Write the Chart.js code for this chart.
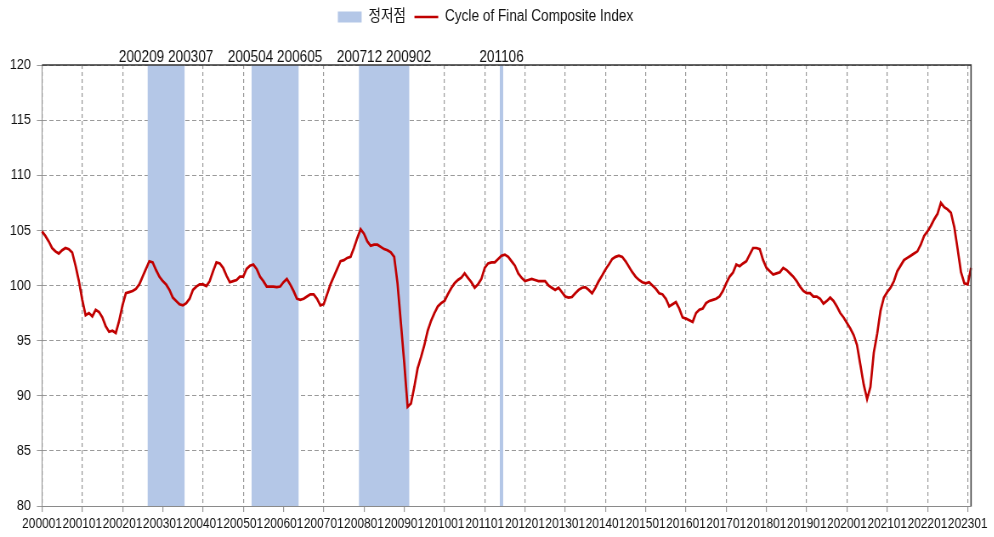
<!DOCTYPE html>
<html>
<head>
<meta charset="utf-8">
<script src="https://cdn.jsdelivr.net/npm/chart.js@4.4.0/dist/chart.umd.min.js"></script>
<style>
  html, body { margin: 0; padding: 0; background: #fff; overflow: hidden; }
  #wrap { position: relative; height: 537px; transform-origin: 0 0; }
</style>
</head>
<body>
<div id="wrap"><canvas id="myChart"></canvas></div>
<script>
// the source picture is a horizontally squeezed Excel chart, so the chart is
// drawn wider and squeezed back with CSS
const SQUEEZE = 0.85;
const wrap = document.getElementById('wrap');
wrap.style.width = (994 / SQUEEZE) + 'px';
wrap.style.transform = 'scaleX(' + SQUEEZE + ')';

const FONT = "'Liberation Sans', Arial, 'Noto Sans CJK KR', sans-serif";

// months 200001 .. 202302
const firstYear = 2000;
const monthCount = 278;
const yMin = 80;
const yMax = 120;
const yStep = 5;

// cycle of final composite index, one row per year
const cycleIndex = [
  104.9, 104.5, 104.0, 103.4, 103.1, 102.9, 103.2, 103.4, 103.3, 103.0, 101.8, 100.4, // 2000
  98.7, 97.3, 97.5, 97.2, 97.8, 97.6, 97.1, 96.3, 95.8, 95.9, 95.7, 96.8,             // 2001
  98.2, 99.3, 99.4, 99.5, 99.7, 100.1, 100.8, 101.5, 102.2, 102.1, 101.4, 100.8,      // 2002
  100.4, 100.1, 99.6, 98.9, 98.6, 98.3, 98.2, 98.4, 98.8, 99.6, 99.9, 100.1,          // 2003
  100.1, 99.95, 100.4, 101.3, 102.1, 102.0, 101.6, 100.9, 100.3, 100.4, 100.5, 100.8, // 2004
  100.8, 101.5, 101.8, 101.9, 101.5, 100.8, 100.4, 99.9, 99.9, 99.9, 99.85, 99.9,     // 2005
  100.3, 100.6, 100.1, 99.5, 98.8, 98.7, 98.8, 99.0, 99.2, 99.2, 98.8, 98.2,          // 2006
  98.3, 99.2, 100.1, 100.8, 101.5, 102.2, 102.3, 102.5, 102.6, 103.4, 104.3, 105.1,   // 2007
  104.7, 104.0, 103.6, 103.7, 103.7, 103.5, 103.3, 103.2, 103.0, 102.6, 100.2, 96.6,  // 2008
  93.0, 89.0, 89.3, 90.8, 92.5, 93.5, 94.6, 95.9, 96.8, 97.5, 98.1, 98.4,             // 2009
  98.6, 99.2, 99.75, 100.2, 100.5, 100.7, 101.1, 100.7, 100.3, 99.8, 100.1, 100.6,    // 2010
  101.6, 102.0, 102.1, 102.1, 102.4, 102.7, 102.8, 102.6, 102.2, 101.8, 101.1, 100.7, // 2011
  100.4, 100.5, 100.6, 100.5, 100.4, 100.4, 100.4, 100.0, 99.8, 99.6, 99.8, 99.4,     // 2012
  99.0, 98.9, 98.95, 99.3, 99.6, 99.8, 99.85, 99.6, 99.3, 99.8, 100.4, 100.9,         // 2013
  101.45, 101.9, 102.4, 102.6, 102.7, 102.6, 102.2, 101.7, 101.2, 100.8, 100.5, 100.3,// 2014
  100.2, 100.3, 100.0, 99.7, 99.3, 99.2, 98.8, 98.1, 98.3, 98.5, 97.9, 97.1,          // 2015
  97.0, 96.85, 96.7, 97.5, 97.8, 97.9, 98.4, 98.6, 98.7, 98.8, 99.0, 99.5,            // 2016
  100.2, 100.8, 101.15, 101.9, 101.75, 102.0, 102.2, 102.8, 103.4, 103.4, 103.3, 102.3,// 2017
  101.6, 101.3, 101.0, 101.1, 101.2, 101.6, 101.4, 101.1, 100.8, 100.4, 99.9, 99.5,   // 2018
  99.3, 99.3, 99.0, 99.0, 98.8, 98.35, 98.6, 98.9, 98.6, 98.1, 97.5, 97.1,            // 2019
  96.6, 96.1, 95.5, 94.6, 92.8, 91.0, 89.7, 90.8, 93.9, 95.6, 97.7, 98.9,             // 2020
  99.4, 99.8, 100.4, 101.3, 101.8, 102.3, 102.5, 102.7, 102.9, 103.1, 103.7, 104.5,   // 2021
  104.9, 105.4, 106.0, 106.5, 107.5, 107.1, 106.9, 106.6, 105.3, 103.3, 101.2, 100.2, // 2022
  100.1, 101.6                                                                        // 2023
];

// peak / trough periods (정저점)
const turningPeriods = [
  ['200209', '200307'],
  ['200504', '200605'],
  ['200712', '200902'],
  ['201106', '201106']
];

const months = [];
for (let i = 0; i < monthCount; i++) {
  const y = firstYear + Math.floor(i / 12);
  const m = (i % 12) + 1;
  months.push(String(y) + (m < 10 ? '0' : '') + m);
}

const inPeriod = (label) => turningPeriods.some(p => label >= p[0] && label <= p[1]);
// full height inside a period, flat on the axis outside
const bandValues = months.map(l => inPeriod(l) ? yMax : yMin);
const isYearStart = (i) => months[i] && months[i].endsWith('01');

//----------------------------plugins----------------------------
const legendSpace = {
  id: 'legendSpace',
  beforeInit(chart) {
    const fit = chart.legend.fit;
    chart.legend.fit = function () {
      fit.call(this);
      this.height = 66;
    };
  }
};

const frameLines = {
  id: 'frameLines',
  afterDraw(chart) {
    const { ctx, chartArea } = chart;
    ctx.save();
    ctx.strokeStyle = '#333';
    ctx.lineWidth = 1.5;
    ctx.beginPath();
    ctx.moveTo(chartArea.left, chartArea.top);
    ctx.lineTo(chartArea.right, chartArea.top);
    ctx.lineTo(chartArea.right, chartArea.bottom);
    ctx.stroke();
    ctx.restore();
  }
};

const periodLabels = {
  id: 'periodLabels',
  afterDraw(chart) {
    const { ctx, chartArea } = chart;
    const xs = chart.scales.x;
    ctx.save();
    ctx.font = '16px ' + FONT;
    ctx.fillStyle = '#111';
    ctx.textAlign = 'center';
    ctx.textBaseline = 'alphabetic';
    turningPeriods.forEach(p => {
      const a = xs.getPixelForValue(months.indexOf(p[0]));
      const b = xs.getPixelForValue(months.indexOf(p[1]));
      const text = p[0] === p[1] ? p[0] : p[0] + ' ' + p[1];
      ctx.fillText(text, (a + b) / 2, chartArea.top - 3);
    });
    ctx.restore();
  }
};

//----------------------------chart----------------------------
const ctx = document.getElementById('myChart');
const myChart = new Chart(ctx, {
  type: 'line',
  data: {
    labels: months,
    datasets: [
      {
        label: '정저점',
        data: bandValues,
        stepped: 'middle',
        fill: 'start',
        backgroundColor: '#b4c7e7',
        borderColor: 'rgba(0,0,0,0)',
        borderWidth: 0,
        pointRadius: 0,
        pointStyle: 'rect',
        order: 2
      },
      {
        label: 'Cycle of Final Composite Index',
        data: cycleIndex,
        borderColor: '#c00000',
        backgroundColor: '#c00000',
        borderWidth: 2.7,
        pointRadius: 0,
        tension: 0,
        fill: false,
        pointStyle: 'line',
        order: 1
      }
    ]
  },
  options: {
    responsive: true,
    maintainAspectRatio: false,
    animation: false,
    layout: { padding: { top: -1, right: 27, left: 0, bottom: 0 } },
    plugins: {
      legend: {
        display: true,
        labels: {
          usePointStyle: true,
          pointStyleWidth: 28,
          boxHeight: 11,
          padding: 10,
          color: '#111',
          font: { family: FONT, size: 16 },
          sort: (a, b) => a.datasetIndex - b.datasetIndex
        }
      },
      tooltip: { enabled: false }
    },
    scales: {
      x: {
        offset: false,
        grid: {
          color: (c) => isYearStart(c.index) ? '#9a9a9a' : 'rgba(0,0,0,0)',
          tickColor: (c) => isYearStart(c.index) ? '#9a9a9a' : 'rgba(0,0,0,0)',
          tickLength: 6,
          lineWidth: 1.2
        },
        border: { color: '#8a8a8a', width: 1, dash: [4, 3] },
        ticks: {
          autoSkip: false,
          maxRotation: 0,
          minRotation: 0,
          padding: 4,
          color: '#111',
          font: { family: FONT, size: 14 },
          callback: (v, i) => isYearStart(i) ? months[i] : ''
        },
        afterFit(scale) { scale.height = 31; }
      },
      y: {
        min: yMin,
        max: yMax,
        grid: { color: '#9a9a9a', tickColor: '#9a9a9a', tickLength: 6, lineWidth: 1 },
        border: { color: '#8a8a8a', width: 1, dash: [5, 3] },
        ticks: {
          stepSize: yStep,
          padding: 7,
          color: '#111',
          font: { family: FONT, size: 15 }
        },
        afterFit(scale) { scale.width = 42 / SQUEEZE; }
      }
    }
  },
  plugins: [legendSpace, frameLines, periodLabels]
});
</script>
</body>
</html>
